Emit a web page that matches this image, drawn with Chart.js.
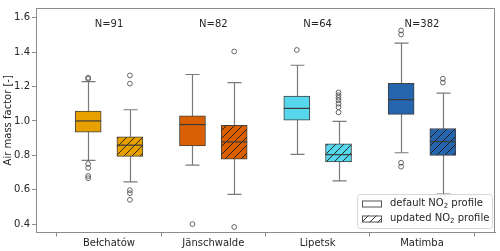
<!DOCTYPE html>
<html>
<head>
<meta charset="utf-8">
<script src="https://cdn.jsdelivr.net/npm/chart.js@4"></script>
<style>
  html, body { margin: 0; padding: 0; background: #fff; }
  #wrap { width: 500px; height: 251px; }
</style>
</head>
<body>
<div id="wrap"><canvas id="chart"></canvas></div>
<script>
const categories = ['Bełchatów', 'Jänschwalde', 'Lipetsk', 'Matimba'];
const counts = [91, 82, 64, 382];
const colors = ['#E8A000', '#D95F02', '#57D7EC', '#2565AE'];
const yTicks = [0.4, 0.6, 0.8, 1.0, 1.2, 1.4, 1.6];

// default NO2 profile
const defLow = [0.771, 0.743, 0.806, 0.815];
const defQ1 = [0.935, 0.855, 1.004, 1.038];
const defMed = [1.000, 0.979, 1.073, 1.124];
const defQ3 = [1.057, 1.029, 1.145, 1.219];
const defHigh = [1.229, 1.270, 1.324, 1.453];
const defOut = [
    [1.251, 1.245, 0.750, 0.727, 0.680, 0.667],
    [0.400],
    [1.413],
    [1.526, 1.503, 0.757, 0.734]
];

// updated NO2 profile
const updLow = [0.646, 0.573, 0.651, 0.575];
const updQ1 = [0.794, 0.777, 0.762, 0.800];
const updMed = [0.859, 0.878, 0.804, 0.880];
const updQ3 = [0.907, 0.975, 0.867, 0.956];
const updHigh = [1.065, 1.223, 0.998, 1.162];
const updOut = [
    [1.265, 1.217, 0.597, 0.580, 0.541],
    [1.404, 0.383],
    [1.166, 1.150, 1.135, 1.120, 1.100, 1.080, 1.050],
    [1.246, 1.223, 0.556]
];

const shift = 0.2;
const boxWidth = 26;

function hatch(color) {
    const c = document.createElement('canvas');
    c.width = 8; c.height = 8;
    const g = c.getContext('2d');
    g.fillStyle = color;
    g.fillRect(0, 0, 8, 8);
    g.strokeStyle = '#1a1a1a';
    g.lineWidth = 0.9;
    g.beginPath();
    g.moveTo(0, 8); g.lineTo(8, 0);
    g.moveTo(-4, 4); g.lineTo(4, -4);
    g.moveTo(4, 12); g.lineTo(12, 4);
    g.stroke();
    return g.createPattern(c, 'repeat');
}

function outlierPoints(list, off) {
    const pts = [];
    list.forEach((vals, i) => vals.forEach(v => pts.push({x: i + off, y: v})));
    return pts;
}

const boxPlugin = {
    id: 'boxParts',
    beforeDatasetsDraw(chart) {
        const ctx = chart.ctx, x = chart.scales.x, y = chart.scales.y;
        ctx.save();
        ctx.strokeStyle = '#7a7a7a';
        ctx.lineWidth = 1.2;
        const sets = [[-shift, defLow, defHigh], [shift, updLow, updHigh]];
        sets.forEach(([off, lo, hi]) => {
            categories.forEach((c, i) => {
                const px = Math.round(x.getPixelForValue(i + off)) + 0.5;
                const pl = y.getPixelForValue(lo[i]), ph = y.getPixelForValue(hi[i]);
                ctx.beginPath();
                ctx.moveTo(px, pl); ctx.lineTo(px, ph);
                ctx.moveTo(px - 7, pl); ctx.lineTo(px + 7, pl);
                ctx.moveTo(px - 7, ph); ctx.lineTo(px + 7, ph);
                ctx.stroke();
            });
        });
        ctx.restore();
    },
    afterDatasetsDraw(chart) {
        const ctx = chart.ctx, x = chart.scales.x, y = chart.scales.y, a = chart.chartArea;
        ctx.save();
        // medians
        ctx.strokeStyle = '#3a3a3a';
        ctx.lineWidth = 1.2;
        [[-shift, defMed], [shift, updMed]].forEach(([off, med]) => {
            categories.forEach((c, i) => {
                const px = x.getPixelForValue(i + off);
                const py = y.getPixelForValue(med[i]);
                ctx.beginPath();
                ctx.moveTo(px - boxWidth / 2, py); ctx.lineTo(px + boxWidth / 2, py);
                ctx.stroke();
            });
        });
        // N labels
        ctx.fillStyle = '#262626';
        ctx.font = '10px "DejaVu Sans"';
        ctx.textAlign = 'center';
        ctx.textBaseline = 'middle';
        counts.forEach((n, i) => {
            ctx.fillText('N=' + n, x.getPixelForValue(i), y.getPixelForValue(1.56));
        });
        // top / right spines
        ctx.strokeStyle = '#8c8c8c';
        ctx.lineWidth = 1;
        ctx.beginPath();
        ctx.moveTo(a.left, a.top + 0.5); ctx.lineTo(a.right - 0.5, a.top + 0.5);
        ctx.lineTo(a.right - 0.5, a.bottom);
        ctx.stroke();
        // legend
        const lx = 357, ly = 194, lw = 135, lh = 34;
        ctx.fillStyle = 'rgba(255,255,255,0.85)';
        ctx.strokeStyle = '#d6d6d6';
        ctx.beginPath();
        ctx.roundRect(lx + 0.5, ly + 0.5, lw, lh, 3);
        ctx.fill(); ctx.stroke();
        const rows = [['default', '#ffffff'], ['updated', hatch('#ffffff')]];
        rows.forEach(([word, fill], k) => {
            const cy = ly + 9.5 + k * 15;
            ctx.fillStyle = fill;
            ctx.fillRect(362, cy - 3, 19, 7);
            ctx.strokeStyle = '#555';
            ctx.strokeRect(362.5, cy - 2.5, 19, 6);
            ctx.fillStyle = '#262626';
            ctx.textAlign = 'left';
            ctx.font = '10px "DejaVu Sans"';
            const t1 = word + ' NO';
            ctx.fillText(t1, 390, cy);
            let tx = 390 + ctx.measureText(t1).width;
            ctx.font = '7px "DejaVu Sans"';
            ctx.fillText('2', tx, cy + 3);
            tx += ctx.measureText('2').width;
            ctx.font = '10px "DejaVu Sans"';
            ctx.fillText(' profile', tx, cy);
        });
        ctx.restore();
    }
};

const datasets = [
    {
        type: 'bar',
        label: 'default',
        data: categories.map((c, i) => ({x: i - shift, y: [defQ1[i], defQ3[i]]})),
        backgroundColor: colors,
        borderColor: '#404040',
        borderWidth: 1,
        borderSkipped: false,
        barThickness: boxWidth,
        grouped: false
    },
    {
        type: 'bar',
        label: 'updated',
        data: categories.map((c, i) => ({x: i + shift, y: [updQ1[i], updQ3[i]]})),
        backgroundColor: colors.map(hatch),
        borderColor: '#404040',
        borderWidth: 1,
        borderSkipped: false,
        barThickness: boxWidth,
        grouped: false
    },
    {
        type: 'scatter',
        data: outlierPoints(defOut, -shift).concat(outlierPoints(updOut, shift)),
        pointStyle: 'circle',
        pointRadius: 2.4,
        pointBorderWidth: 0.9,
        pointBorderColor: '#555',
        pointBackgroundColor: 'rgba(255,255,255,0)'
    }
];

new Chart(document.getElementById('chart'), {
    type: 'bar',
    data: {datasets: datasets},
    plugins: [boxPlugin],
    options: {
        responsive: true,
        maintainAspectRatio: false,
        animation: false,
        layout: {padding: {top: 4, right: 5, left: 0, bottom: 0}},
        plugins: {legend: {display: false}, tooltip: {enabled: false}},
        scales: {
            x: {
                type: 'linear',
                min: -0.7,
                max: 3.7,
                offset: false,
                afterBuildTicks: s => { s.ticks = categories.map((c, i) => ({value: i})); },
                afterFit: s => { s.height = 18.5; },
                ticks: {
                    callback: v => categories[v],
                    color: '#262626',
                    font: {family: 'DejaVu Sans', size: 10},
                    padding: 1,
                    maxRotation: 0,
                    autoSkip: false
                },
                grid: {drawOnChartArea: false, tickLength: 4, color: '#8c8c8c'},
                border: {color: '#8c8c8c'}
            },
            y: {
                min: 0.351,
                max: 1.657,
                afterBuildTicks: s => { s.ticks = yTicks.map(v => ({value: v})); },
                afterFit: s => { s.width = 36; },
                ticks: {
                    callback: v => v.toFixed(1),
                    color: '#262626',
                    font: {family: 'DejaVu Sans', size: 10},
                    padding: 2
                },
                grid: {drawOnChartArea: false, tickLength: 4, color: '#8c8c8c'},
                border: {color: '#8c8c8c'},
                title: {
                    display: true,
                    text: 'Air mass factor [-]',
                    color: '#262626',
                    font: {family: 'DejaVu Sans', size: 10},
                    padding: {top: 2, bottom: 0}
                }
            }
        }
    }
});
</script>
</body>
</html>
